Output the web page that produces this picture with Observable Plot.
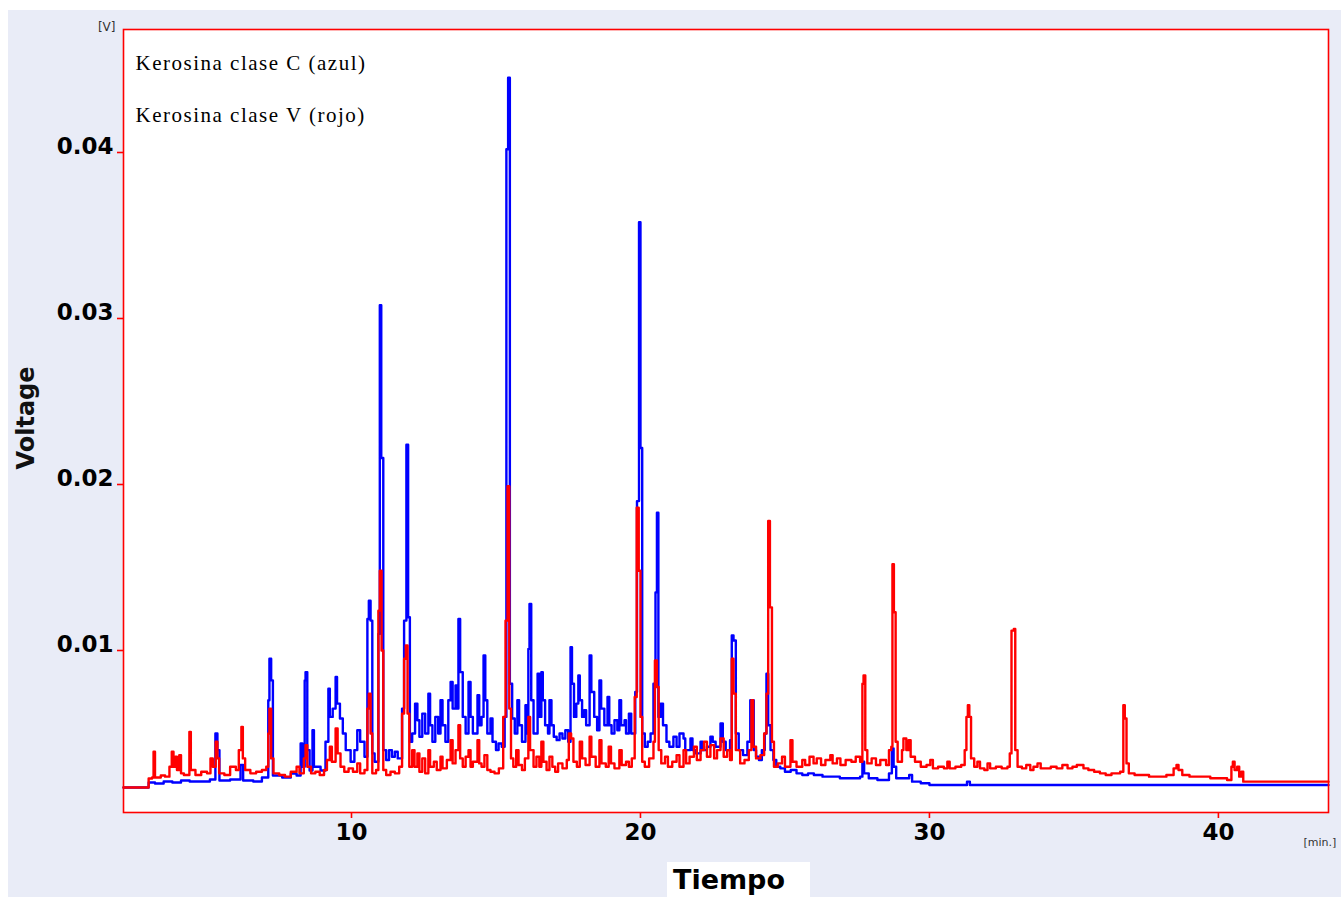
<!DOCTYPE html>
<html>
<head>
<meta charset="utf-8">
<script src="https://cdn.jsdelivr.net/npm/d3@7"></script>
<script src="https://cdn.jsdelivr.net/npm/@observablehq/plot@0.6"></script>
<style>
  html, body { margin: 0; padding: 0; background: #ffffff; }
  #wrap { position: absolute; left: 8px; top: 10px; width: 1333px; height: 887px; background: #e9ecf7; overflow: hidden; }
  #xlabel { position: absolute; left: 659px; top: 852px; width: 143px; height: 35px; background: #ffffff;
            font-family: "DejaVu Sans", Verdana, sans-serif; font-weight: bold; font-size: 27px; line-height: 35px;
            color: #000; padding-left: 6px; box-sizing: border-box; }
</style>
</head>
<body>
<div id="wrap"><div id="chart"></div><div id="xlabel">Tiempo</div></div>
<script>
// Series titles
const seriesNames = ["Kerosina clase C (azul)", "Kerosina clase V (rojo)"];
const seriesColors = ["#0000ff", "#ff0000"];

// Tick values
const yTicks = [0.01, 0.02, 0.03, 0.04];
const xTicks = [10, 20, 30, 40];

// Kerosina clase C (azul): [tiempo (min), voltaje (V)]
const blueSeries = [
  [2.11,.00175],[2.98,.00205],[3.2,.00199],[3.5,.00211],[3.8,.00205],[4.1,.00217],[4.4,.00211],[4.8,.00211],
  [5.1,.00223],[5.29,.0050],[5.36,.0040],[5.43,.00217],[5.8,.00223],[6.16,.0031],[6.25,.00217],[6.6,.00211],
  [6.9,.00235],[7.12,.0070],[7.16,.0095],[7.22,.0082],[7.28,.00247],[7.6,.00235],[7.9,.00259],[8.1,.00247],
  [8.24,.0044],[8.3,.0030],[8.38,.0082],[8.41,.0087],[8.47,.0040],[8.55,.00277],[8.65,.0052],[8.7,.0030],
  [8.93,.00277],[9.1,.0045],[9.2,.0077],[9.25,.0060],[9.35,.0065],[9.45,.0084],[9.5,.0068],[9.6,.0059],
  [9.7,.0050],[9.8,.0040],[9.97,.0033],[10.1,.0040],[10.2,.0052],[10.3,.0045],[10.45,.0036],[10.55,.0119],
  [10.6,.0130],[10.66,.0118],[10.72,.0038],[10.8,.0033],[10.93,.0110],[10.98,.0308],[11.03,.0216],[11.1,.0040],
  [11.2,.0034],[11.3,.0040],[11.4,.0036],[11.5,.0039],[11.6,.0035],[11.75,.0065],[11.82,.0118],[11.9,.0224],
  [11.96,.0120],[12.02,.0045],[12.1,.0050],[12.2,.0068],[12.28,.0058],[12.35,.0048],[12.45,.0062],[12.55,.0050],
  [12.66,.0074],[12.72,.0055],[12.8,.0045],[12.9,.0060],[13.0,.0050],[13.08,.0070],[13.15,.0055],[13.25,.0045],
  [13.35,.0070],[13.43,.0081],[13.5,.0065],[13.6,.0079],[13.66,.0065],[13.7,.0119],[13.76,.0087],[13.85,.0060],
  [13.95,.0050],[14.05,.0081],[14.12,.0060],[14.2,.0050],[14.36,.0073],[14.42,.0055],[14.5,.0060],[14.57,.0097],
  [14.63,.0070],[14.7,.0050],[14.81,.0059],[14.88,.0045],[15.0,.0040],[15.09,.0044],[15.2,.0042],[15.3,.0060],
  [15.36,.0402],[15.42,.0445],[15.48,.0080],[15.56,.0059],[15.65,.0050],[15.74,.0070],[15.8,.0055],[15.9,.0045],
  [16.02,.0067],[16.08,.0050],[16.12,.0101],[16.16,.0128],[16.22,.0070],[16.3,.0050],[16.44,.0086],[16.5,.0060],
  [16.57,.0087],[16.62,.0070],[16.7,.0055],[16.8,.0050],[16.85,.0070],[16.92,.0055],[17.0,.0048],[17.1,.0046],
  [17.2,.0050],[17.3,.0047],[17.4,.0052],[17.5,.0045],[17.58,.0102],[17.63,.0080],[17.7,.0060],[17.78,.0068],
  [17.85,.0085],[17.9,.0070],[17.98,.0060],[18.05,.0064],[18.12,.0055],[18.24,.0097],[18.3,.0075],[18.4,.0060],
  [18.5,.0052],[18.58,.0082],[18.64,.0065],[18.75,.0055],[18.86,.0072],[18.92,.0055],[19.0,.0050],[19.1,.0058],
  [19.2,.0052],[19.27,.0070],[19.33,.0055],[19.45,.0058],[19.5,.0050],[19.6,.0062],[19.68,.0050],[19.82,.0075],
  [19.88,.0190],[19.95,.0358],[20.0,.0222],[20.06,.0050],[20.15,.0042],[20.25,.0045],[20.35,.0050],[20.45,.0080],
  [20.52,.0135],[20.57,.0183],[20.62,.0060],[20.7,.0068],[20.78,.0055],[20.9,.0045],[21.0,.0042],[21.14,.0048],
  [21.25,.0042],[21.35,.0050],[21.49,.0047],[21.55,.0040],[21.73,.0047],[21.8,.0040],[21.9,.0038],[22.08,.0045],
  [22.15,.0040],[22.3,.0042],[22.42,.0048],[22.5,.0045],[22.6,.0042],[22.77,.0056],[22.85,.0045],[22.95,.0040],
  [23.1,.0046],[23.16,.0109],[23.22,.0106],[23.3,.0050],[23.4,.0040],[23.55,.0037],[23.7,.0045],[23.8,.0070],
  [23.88,.0070],[23.92,.0040],[24.0,.0036],[24.1,.0034],[24.2,.0040],[24.3,.0050],[24.36,.0086],[24.42,.0055],
  [24.5,.0040],[24.6,.0034],[24.7,.0030],[24.84,.0029],[25.0,.0027],[25.2,.0028],[25.4,.0026],[25.6,.0025],
  [25.8,.0026],[26.0,.0025],[26.3,.0024],[26.6,.0024],[26.9,.0023],[27.2,.0023],[27.6,.0024],[27.68,.0033],
  [27.74,.0026],[27.9,.0023],[28.2,.0022],[28.6,.0026],[28.7,.0041],[28.76,.0030],[28.85,.0023],[29.2,.0023],
  [29.3,.0025],[29.4,.0021],[29.7,.0020],[30.0,.0019],[31.3,.0021],[31.4,.0019],[43.81,.0019]
];

// Kerosina clase V (rojo): [tiempo (min), voltaje (V)]
const redSeries = [
  [2.11,.00175],[2.98,.00229],[3.1,.00235],[3.15,.0039],[3.2,.00235],[3.4,.00247],[3.55,.0024],[3.7,.0030],
  [3.78,.0039],[3.84,.0030],[3.9,.0036],[3.96,.0028],[4.04,.0037],[4.1,.0026],[4.2,.0025],[4.39,.0051],
  [4.44,.0028],[4.6,.0025],[4.8,.0027],[5.0,.0026],[5.12,.0035],[5.2,.0030],[5.3,.0045],[5.36,.0035],
  [5.42,.0026],[5.6,.0025],[5.8,.0030],[6.0,.0028],[6.1,.0040],[6.19,.0054],[6.24,.0035],[6.32,.0028],
  [6.5,.0026],[6.7,.0027],[6.9,.0028],[7.05,.0030],[7.12,.0050],[7.16,.0065],[7.22,.0035],[7.3,.0026],
  [7.5,.0025],[7.7,.0024],[7.9,.0027],[8.1,.0030],[8.2,.0026],[8.35,.0035],[8.41,.0043],[8.47,.0030],
  [8.6,.0026],[8.75,.0027],[8.9,.0025],[9.05,.0028],[9.15,.0034],[9.25,.0042],[9.32,.0033],[9.45,.0053],
  [9.52,.0038],[9.62,.0030],[9.75,.0027],[9.9,.0029],[10.05,.0027],[10.2,.0032],[10.3,.0026],[10.45,.0028],
  [10.55,.0065],[10.6,.0074],[10.66,.0050],[10.72,.0026],[10.85,.0028],[10.93,.0124],[10.98,.0148],[11.04,.0100],
  [11.1,.0028],[11.2,.0025],[11.35,.0027],[11.5,.0026],[11.65,.0030],[11.75,.0062],[11.82,.0095],[11.88,.0103],
  [11.94,.0062],[12.0,.0030],[12.1,.0040],[12.18,.0030],[12.28,.0038],[12.35,.0027],[12.45,.0035],[12.55,.0026],
  [12.66,.0040],[12.72,.0030],[12.85,.0033],[12.95,.0028],[13.08,.0036],[13.15,.0029],[13.3,.0034],[13.43,.0046],
  [13.5,.0032],[13.6,.0040],[13.7,.0055],[13.76,.0035],[13.85,.0030],[13.95,.0036],[14.05,.0040],[14.12,.0030],
  [14.2,.0033],[14.36,.0046],[14.42,.0032],[14.5,.0030],[14.6,.0037],[14.7,.0028],[14.81,.0027],[14.95,.0026],
  [15.1,.0029],[15.25,.0060],[15.33,.0118],[15.4,.0199],[15.46,.0065],[15.52,.0035],[15.6,.0030],[15.7,.0040],
  [15.78,.0031],[15.9,.0028],[16.0,.0035],[16.12,.0060],[16.18,.0040],[16.3,.0030],[16.4,.0036],[16.5,.0030],
  [16.57,.0045],[16.64,.0033],[16.75,.0028],[16.85,.0036],[16.95,.0030],[17.05,.0027],[17.15,.0032],[17.3,.0029],
  [17.45,.0034],[17.52,.0050],[17.6,.0047],[17.68,.0033],[17.8,.0030],[17.9,.0045],[17.98,.0035],[18.1,.0031],
  [18.24,.0048],[18.3,.0036],[18.45,.0030],[18.58,.0046],[18.65,.0032],[18.8,.0030],[18.9,.0042],[18.98,.0032],
  [19.1,.0029],[19.27,.0040],[19.35,.0031],[19.5,.0033],[19.6,.0030],[19.7,.0035],[19.8,.0072],[19.87,.0186],
  [19.94,.0148],[20.0,.0060],[20.06,.0033],[20.15,.0030],[20.3,.0035],[20.45,.0045],[20.5,.0094],[20.57,.0078],
  [20.63,.0040],[20.72,.0032],[20.85,.0036],[20.95,.0030],[21.1,.0033],[21.25,.0037],[21.35,.0030],[21.49,.0040],
  [21.58,.0032],[21.7,.0036],[21.85,.0042],[21.95,.0034],[22.08,.0040],[22.2,.0045],[22.3,.0036],[22.42,.0043],
  [22.55,.0035],[22.65,.0040],[22.77,.0047],[22.88,.0036],[23.0,.0040],[23.1,.0034],[23.16,.0095],[23.22,.0074],
  [23.3,.0040],[23.45,.0032],[23.6,.0034],[23.75,.0040],[23.84,.0070],[23.9,.0042],[24.0,.0035],[24.15,.0037],
  [24.28,.0050],[24.36,.0074],[24.42,.0178],[24.48,.0126],[24.55,.0045],[24.62,.0030],[24.75,.0032],[24.9,.0036],
  [25.0,.0030],[25.19,.0046],[25.26,.0033],[25.4,.0030],[25.6,.0034],[25.7,.0031],[25.85,.0036],[25.99,.0032],
  [26.1,.0035],[26.25,.0031],[26.4,.0034],[26.57,.0037],[26.65,.0032],[26.8,.0035],[26.92,.0031],[27.1,.0034],
  [27.3,.0033],[27.45,.0036],[27.6,.0033],[27.68,.0080],[27.72,.0085],[27.78,.0040],[27.85,.0032],[28.0,.0035],
  [28.15,.0031],[28.3,.0034],[28.5,.0031],[28.6,.0040],[28.68,.0042],[28.72,.0152],[28.77,.0123],[28.83,.0045],
  [28.9,.0033],[29.05,.0040],[29.1,.0047],[29.2,.0040],[29.28,.0046],[29.35,.0036],[29.5,.0033],[29.7,.0030],
  [29.9,.0031],[30.03,.0034],[30.12,.0029],[30.3,.0030],[30.5,.0029],[30.62,.0033],[30.7,.0029],[30.9,.0030],
  [31.1,.0031],[31.22,.0040],[31.28,.0060],[31.33,.0067],[31.38,.0060],[31.44,.0035],[31.55,.0030],[31.66,.0033],
  [31.75,.0029],[31.9,.0028],[32.01,.0032],[32.1,.0029],[32.3,.0030],[32.5,.0029],[32.7,.0030],[32.78,.0038],
  [32.84,.0112],[32.92,.0113],[32.97,.0040],[33.05,.0030],[33.2,.0029],[33.35,.0031],[33.49,.0028],[33.6,.0030],
  [33.74,.0032],[33.85,.0029],[34.0,.0029],[34.2,.0030],[34.4,.0029],[34.6,.0031],[34.78,.0029],[34.95,.0030],
  [35.1,.0031],[35.33,.0029],[35.5,.0028],[35.7,.0027],[35.9,.0026],[36.1,.0025],[36.3,.0026],[36.6,.0027],
  [36.71,.0067],[36.76,.0059],[36.82,.0032],[36.9,.0026],[37.1,.0025],[37.3,.0025],[37.6,.0024],[37.9,.0024],
  [38.2,.0025],[38.45,.0029],[38.55,.0031],[38.62,.0028],[38.75,.0025],[39.0,.0024],[39.3,.0024],[39.72,.0023],
  [40.0,.0023],[40.3,.0022],[40.45,.0030],[40.5,.0033],[40.56,.0028],[40.65,.0030],[40.72,.0024],[40.8,.0027],
  [40.86,.0021],[41.2,.0021],[43.81,.0021]
];

const rows = [
  ...blueSeries.map(([t, v]) => ({serie: seriesNames[0], t, v})),
  ...redSeries.map(([t, v]) => ({serie: seriesNames[1], t, v}))
];

const tickFont = {fontFamily: "DejaVu Sans, Verdana, sans-serif", fontSize: 23, fontWeight: "bold"};
const legendFont = {fontFamily: "Liberation Serif, Times New Roman, serif", fontSize: 21, fill: "black"};

const chart = Plot.plot({
  width: 1333,
  height: 887,
  marginLeft: 115,
  marginRight: 13,
  marginTop: 19,
  marginBottom: 85,
  style: {background: "none", overflow: "visible"},
  x: {domain: [2.11, 43.81]},
  y: {domain: [0.000241, 0.04741]},
  color: {domain: seriesNames, range: seriesColors},
  marks: [
    Plot.frame({fill: "white", stroke: "none"}),
    Plot.line(rows, {x: "t", y: "v", stroke: "serie", z: "serie", curve: "step-after", strokeWidth: 2.4}),
    Plot.frame({stroke: "#ff0000", strokeWidth: 1.6}),
    // y ticks (red) and labels
    Plot.axisY({ticks: yTicks, tickSize: 6, stroke: "#ff0000", strokeWidth: 1.6, fill: "none", label: null}),
    Plot.axisY({ticks: yTicks, tickSize: 6, tickPadding: 4, stroke: "none", fill: "black", dy: -6,
                tickFormat: d3.format(".2f"), label: null, ...tickFont}),
    // x ticks and labels
    Plot.axisX({ticks: xTicks, tickSize: 6, tickPadding: 5, stroke: "#ff0000", strokeWidth: 1.6, fill: "black",
                tickFormat: d => String(d), label: null, ...tickFont}),
    // legend texts
    Plot.text([seriesNames[0]], {text: d => d, frameAnchor: "top-left", dx: 12, dy: 26, textAnchor: "start", ...legendFont}),
    Plot.text([seriesNames[1]], {text: d => d, frameAnchor: "top-left", dx: 12, dy: 78, textAnchor: "start", ...legendFont}),
    // axis title and units
    Plot.text(["Voltage"], {text: d => d, frameAnchor: "left", dx: -97, dy: -3, rotate: -90, textAnchor: "middle",
               fontFamily: "DejaVu Sans, Verdana, sans-serif", fontSize: 24, fontWeight: "bold", fill: "#111"}),
    Plot.text(["[V]"], {text: d => d, frameAnchor: "top-left", dx: -8, dy: -7, textAnchor: "end",
               fontFamily: "DejaVu Sans, Verdana, sans-serif", fontSize: 12, fill: "#333"}),
    Plot.text(["[min.]"], {text: d => d, frameAnchor: "bottom-right", dx: -25, dy: 33, textAnchor: "start",
               fontFamily: "DejaVu Sans, Verdana, sans-serif", fontSize: 11, fill: "#333"})
  ]
});

d3.select(chart).selectAll("text")
  .filter(function() { return this.textContent.startsWith("Kerosina"); })
  .attr("letter-spacing", "1.5");

document.getElementById("chart").appendChild(chart);
</script>
</body>
</html>
